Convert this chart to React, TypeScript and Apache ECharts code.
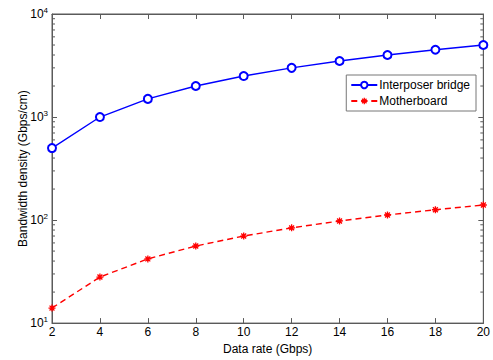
import React, { useEffect, useRef } from "react";
import * as echarts from "echarts";

const dataRates = [2, 4, 6, 8, 10, 12, 14, 16, 18, 20];
const interposer = [500, 1000, 1500, 2000, 2500, 3000, 3500, 4000, 4500, 5000];
const motherboard = [14, 28, 42, 56, 70, 84, 98, 112, 126, 140];
const minorTickValues = [
  20, 30, 40, 50, 60, 70, 80, 90,
  200, 300, 400, 500, 600, 700, 800, 900,
  2000, 3000, 4000, 5000, 6000, 7000, 8000, 9000,
];

const FONT = "Liberation Sans";
const AXIS_COLOR = "#5a5a5a";
const STAR = "path://M0,-5L0,5M-5,0L5,0M-3.5,-3.5L3.5,3.5M-3.5,3.5L3.5,-3.5";

export default function App() {
  const ref = useRef<HTMLDivElement>(null);
  useEffect(() => {
    if (!ref.current) return;
    const chart = echarts.init(ref.current, null, { renderer: "svg" });
    const expLabel = (v: number) => `{b|10}{s|${Math.round(Math.log10(v))}}`;
    chart.setOption({
      animation: false,
      backgroundColor: "#ffffff",
      textStyle: { fontFamily: FONT },
      grid: {
        left: 52,
        right: 9,
        top: 14,
        bottom: 34,
        show: true,
        borderColor: AXIS_COLOR,
        borderWidth: 1,
        backgroundColor: "transparent",
      },
      legend: {
        right: 17,
        top: 75,
        orient: "vertical",
        backgroundColor: "#ffffff",
        borderColor: "#777",
        borderWidth: 1,
        borderRadius: 0,
        padding: [4, 6, 4, 4],
        itemGap: 4,
        itemWidth: 26,
        itemHeight: 8,
        textStyle: { fontFamily: FONT, fontSize: 12, color: "#000", padding: [0, 0, 0, -3] },
        data: [
          "Interposer bridge",
          {
            name: "Motherboard",
            itemStyle: { color: "transparent", borderColor: "#ff0000", borderWidth: 1.3 },
          },
        ],
      },
      xAxis: [
        {
          type: "value",
          min: 2,
          max: 20,
          interval: 2,
          name: "Data rate (Gbps)",
          nameLocation: "middle",
          nameGap: 17,
          nameTextStyle: { fontFamily: FONT, fontSize: 12, color: "#000" },
          axisLine: { show: true, lineStyle: { color: AXIS_COLOR } },
          axisTick: { show: true, inside: true, length: 5, lineStyle: { color: AXIS_COLOR } },
          axisLabel: { fontFamily: FONT, fontSize: 12, color: "#000", margin: 3 },
          splitLine: { show: false },
        },
        {
          type: "value",
          position: "top",
          min: 2,
          max: 20,
          interval: 2,
          axisLine: { show: true, lineStyle: { color: AXIS_COLOR } },
          axisTick: { show: true, inside: true, length: 5, lineStyle: { color: AXIS_COLOR } },
          axisLabel: { show: false },
          splitLine: { show: false },
        },
      ],
      yAxis: [
        {
          type: "log",
          logBase: 10,
          min: 10,
          max: 10000,
          name: "Bandwidth density (Gbps/cm)",
          nameLocation: "middle",
          nameGap: 23,
          nameMoveOverlap: false,
          nameTextStyle: { fontFamily: FONT, fontSize: 12, color: "#000" },
          axisLine: { show: true, lineStyle: { color: AXIS_COLOR } },
          axisTick: { show: true, inside: true, length: 5, lineStyle: { color: AXIS_COLOR } },
          axisLabel: {
            margin: 4,
            formatter: expLabel,
            rich: {
              b: { fontFamily: FONT, fontSize: 12, color: "#000" },
              s: { fontFamily: FONT, fontSize: 8, color: "#000", padding: [0, 0, 8, 0] },
            },
          },
          splitLine: { show: false },
        },
        {
          type: "log",
          logBase: 10,
          min: 10,
          max: 10000,
          position: "right",
          axisLine: { show: true, lineStyle: { color: AXIS_COLOR } },
          axisTick: { show: true, inside: true, length: 5, lineStyle: { color: AXIS_COLOR } },
          axisLabel: { show: false },
          splitLine: { show: false },
        },
      ],
      series: [
        {
          name: "minor",
          type: "custom",
          silent: true,
          xAxisIndex: 0,
          yAxisIndex: 0,
          data: minorTickValues.map((v) => [2, v]),
          renderItem: (_params: any, api: any) => {
            const v = api.value(1);
            const l = api.coord([2, v]);
            const r = api.coord([20, v]);
            const style = { stroke: AXIS_COLOR, lineWidth: 1 };
            return {
              type: "group",
              children: [
                { type: "line", shape: { x1: l[0], y1: l[1], x2: l[0] + 3, y2: l[1] }, style },
                { type: "line", shape: { x1: r[0], y1: r[1], x2: r[0] - 3, y2: r[1] }, style },
              ],
            };
          },
          z: 1,
        },
        {
          name: "Interposer bridge",
          type: "line",
          data: dataRates.map((x, i) => [x, interposer[i]]),
          symbol: "emptyCircle",
          symbolSize: 8,
          lineStyle: { color: "#0000ff", width: 1.4 },
          itemStyle: { color: "#0000ff", borderColor: "#0000ff", borderWidth: 1 },
          z: 3,
        },
        {
          name: "Motherboard",
          type: "line",
          data: dataRates.map((x, i) => [x, motherboard[i]]),
          symbol: STAR,
          symbolSize: 7,
          lineStyle: { color: "#ff0000", width: 1.4, type: [6, 4] },
          itemStyle: { color: "transparent", borderColor: "#ff0000", borderWidth: 1.3 },
          z: 3,
        },
      ],
    });
    return () => chart.dispose();
  }, []);
  return (
    <div
      ref={ref}
      style={{ position: "fixed", left: 0, top: 0, width: 493, height: 360 }}
    />
  );
}
